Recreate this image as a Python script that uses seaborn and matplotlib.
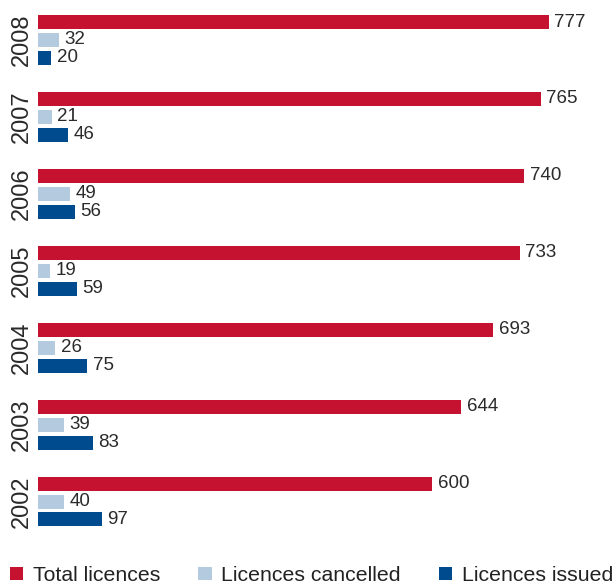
import matplotlib
matplotlib.use("Agg")
import matplotlib.pyplot as plt
import seaborn as sns
import pandas as pd

years = ["2008", "2007", "2006", "2005", "2004", "2003", "2002"]
total_licences = [777, 765, 740, 733, 693, 644, 600]
licences_cancelled = [32, 21, 49, 19, 26, 39, 40]
licences_issued = [20, 46, 56, 59, 75, 83, 97]
series_names = ["Total licences", "Licences cancelled", "Licences issued"]
colors = ["#C41230", "#B3CADF", "#004B8D"]

rows = []
for i, y in enumerate(years):
    for name, vals in zip(series_names, [total_licences, licences_cancelled, licences_issued]):
        rows.append({"Year": y, "Series": name, "Value": vals[i]})
df = pd.DataFrame(rows)

sns.set_theme(style="white")
plt.rcParams["font.family"] = ["Liberation Sans", "DejaVu Sans"]

fig = plt.figure(figsize=(6.15, 5.86), dpi=100)
W, H = 615, 586
ax = fig.add_axes([38 / W, (H - 540) / H, 1 - 38 / W, (540 - 1.5) / H])

sns.barplot(data=df, y="Year", x="Value", hue="Series", order=years,
            hue_order=series_names, palette=colors, orient="h",
            width=0.7, gap=0.22, ax=ax, legend=True, saturation=1,
            linewidth=0, edgecolor="none")

for c in ax.containers:
    ax.bar_label(c, padding=4, fontsize=13.5, color="#2a2a2a")

ax.set_xlim(0, 878)
ax.set_ylim(6.5, -0.5)
ax.set_xlabel("")
ax.set_ylabel("")
ax.set_xticks([])
for s in ax.spines.values():
    s.set_visible(False)
ax.tick_params(axis="y", length=0, pad=4, labelsize=17, labelcolor="#2a2a2a")
for t in ax.get_yticklabels():
    t.set_rotation(90)
    t.set_va("center")

handles, labels = ax.get_legend_handles_labels()
ax.get_legend().remove()
fig.legend(handles, labels, loc="lower left", bbox_to_anchor=(10 / W, 1 / H),
           ncol=3, frameon=False, fontsize=15.3, handlelength=0.62,
           handleheight=0.62, handletextpad=0.45, columnspacing=1.8,
           borderaxespad=0, borderpad=0, labelcolor="#222222")

fig.savefig("out.png", dpi=100)
